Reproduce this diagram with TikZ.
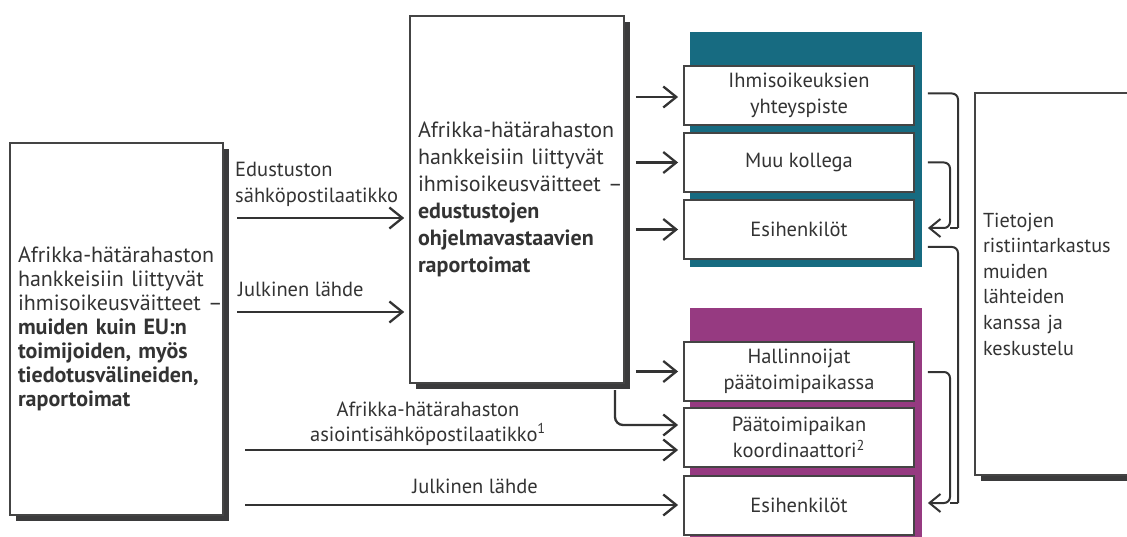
\documentclass[tikz,border=0pt]{standalone}
\usepackage{fontspec}
\setmainfont{PT Sans}
\usetikzlibrary{arrows.meta,shadows,calc}
\definecolor{txt}{HTML}{333333}
\definecolor{bord}{HTML}{444444}
\definecolor{shad}{HTML}{3B3B3C}
\definecolor{teal}{HTML}{176B81}
\definecolor{purp}{HTML}{963A81}
\tikzset{
  bigbox/.style={draw=bord, line width=1.6pt, fill=white, text=txt, align=left,
    inner xsep=8pt, inner ysep=0pt,
    drop shadow={shadow xshift=6pt, shadow yshift=-6pt, opacity=1, fill=shad}},
  sbox/.style={draw=bord, line width=1.8pt, fill=white, text=txt, align=center,
    minimum width=230pt, minimum height=59pt, inner sep=0pt,
    font=\fontsize{20.5}{26}\selectfont},
  lbl/.style={text=txt, inner sep=0pt, font=\fontsize{20.5}{25}\selectfont},
  arr/.style={draw=txt, line width=2.3pt, shorten >=5pt,
    -{Straight Barb[length=13pt,width=21pt,line width=2.3pt]}},
  brk/.style={draw=txt, line width=2pt, rounded corners=6pt},
  brka/.style={brk, -{Straight Barb[length=11pt,width=18pt,line width=2pt]}},
}
\begin{document}
\begin{tikzpicture}[x=1pt,y=-1pt]
\useasboundingbox (0,0) rectangle (1127,537);
% coloured panels
\fill[teal] (690,32) rectangle (922,267);
\fill[purp] (690,308) rectangle (922,545);
% big boxes
\node[bigbox, minimum width=213pt, minimum height=372pt, text width=197pt,
      font=\fontsize{22}{24}\selectfont] (L) at (116.5,329)
  {Afrikka-hätärahaston\\hankkeisiin liittyvät\\\mbox{ihmisoikeusväitteet –}\\\textbf{muiden kuin EU:n}\\\textbf{toimijoiden, myös}\\\textbf{tiedotusvälineiden,}\\\textbf{raportoimat}};
\node[bigbox, minimum width=214pt, minimum height=367pt, text width=198pt,
      font=\fontsize{22}{27}\selectfont] (M) at (517,199.5)
  {Afrikka-hätärahaston\\hankkeisiin liittyvät\\\mbox{ihmisoikeusväitteet –}\\\textbf{edustustojen}\\\textbf{ohjelmavastaavien}\\\textbf{raportoimat}};
\node[bigbox, minimum width=165pt, minimum height=382pt, text width=149pt,
      font=\fontsize{20.2}{25.6}\selectfont] (R) at (1057.5,284)
  {Tietojen\\ristiintarkastus\\muiden\\lähteiden\\kanssa ja\\keskustelu};
% small boxes
\node[sbox] (b1) at (799,95.5) {Ihmisoikeuksien\\yhteyspiste};
\node[sbox] (b2) at (799,162.5) {Muu kollega};
\node[sbox] (b3) at (799,229.5) {Esihenkilöt};
\node[sbox] (h1) at (799,371.5) {Hallinnoijat\\päätoimipaikassa};
\node[sbox] (h2) at (799,437.5) {Päätoimipaikan\\koordinaattori\textsuperscript{2}};
\node[sbox] (h3) at (799,505.5) {Esihenkilöt};
% left -> middle arrows
\coordinate (a1s) at (237,218);
\coordinate (a2s) at (237,312);
\draw[arr] (a1s) -- (a1s -| M.west);
\draw[arr] (a2s) -- (a2s -| M.west);
\node[lbl, anchor=base west] (t1) at (235,177) {Edustuston};
\node[lbl, anchor=base west] (t1b) at (235,203) {sähköpostilaatikko};
\node[lbl, anchor=base west] (t2) at (238,297) {Julkinen lähde};
% left -> lower boxes
\coordinate (a3s) at (245,450);
\coordinate (a4s) at (245,505);
\draw[arr] (a3s) -- (a3s -| h2.west);
\draw[arr] (a4s) -- (a4s -| h3.west);
\node[lbl, anchor=base] (t3) at (428,416) {Afrikka-hätärahaston};
\node[lbl, anchor=base] (t3b) at (428,441) {asiointisähköpostilaatikko\textsuperscript{1}};
\node[lbl, anchor=base] (t4) at (475,493) {Julkinen lähde};
% middle -> boxes
\draw[arr] ($(M.east |- b1.west)+(11,1.5)$) -- ($(b1.west)+(0,1.5)$);
\draw[arr] ($(M.east |- b2.west)+(11,0)$) -- (b2.west);
\draw[arr] ($(M.east |- b3.west)+(11,0)$) -- (b3.west);
\draw[arr] ($(M.east |- h1.west)+(11,0)$) -- (h1.west);
\draw[arr, rounded corners=8pt] (615,390) -- (615,425) -- (h2.west |- 0,425);
% brackets
\draw[brk] ($(b1.east)+(13,-2)$) -- (958,93.5) -- (958,228);
\draw[brka] ($(b2.east)+(13,0)$) -- (950,162.5) -- (950,228) -- ($(b3.east)+(13,-1.5)$);
\draw[brk] (950,228) -- (958,228);
\draw[brk] ($(b3.east)+(13,17.5)$) -- (958,247) -- (958,503);
\draw[brka] ($(h1.east)+(13,0.5)$) -- (950,372) -- (950,503) -- ($(h3.east)+(13,-2.5)$);
\draw[brk] (950,503) -- (958,503);
\end{tikzpicture}
\end{document}
